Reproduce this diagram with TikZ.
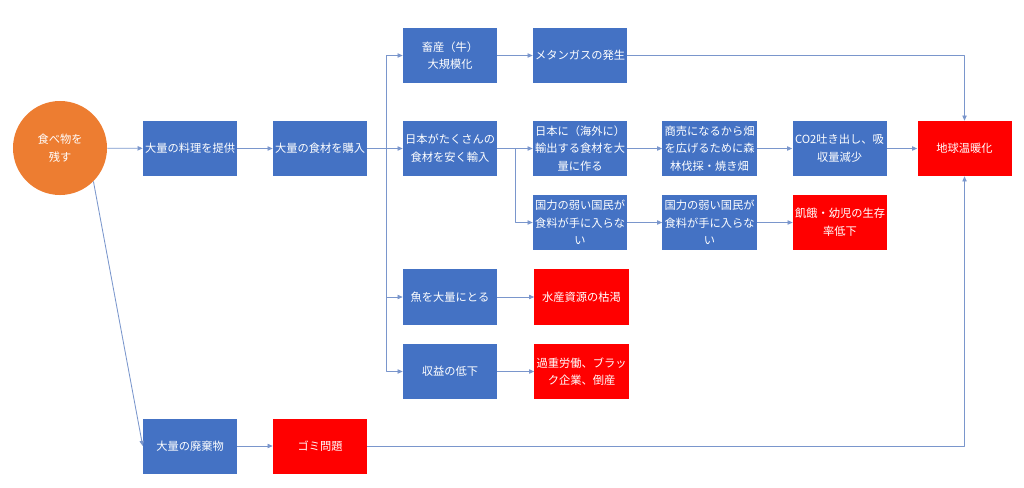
\documentclass[tikz,border=0pt]{standalone}
\usepackage{fontspec}
\setmainfont{Noto Sans CJK JP}
\usetikzlibrary{arrows.meta}
\definecolor{boxblue}{HTML}{4472C4}
\definecolor{boxred}{HTML}{FF0000}
\definecolor{foodorange}{HTML}{ED7D31}
\definecolor{linkblue}{HTML}{7A96CC}
\tikzset{
	box/.style={fill=boxblue,text=white,minimum width=2.35cm,minimum height=1.375cm,
		align=center,inner sep=1pt,font=\fontsize{8}{12.6}\selectfont},
	redbox/.style={box,fill=boxred},
	arr/.style={draw=linkblue,line width=0.6pt,-{Triangle[length=1.3mm,width=1.1mm]}},
	link/.style={draw=linkblue,line width=0.6pt}
}
\begin{document}
\begin{tikzpicture}[x=0.025cm,y=-0.025cm,line join=round]
		\useasboundingbox (0,0) rectangle (1024,487);
		% start
		\node[circle,fill=foodorange,text=white,minimum size=2.35cm,inner sep=0pt,align=center,
			font=\fontsize{8}{12.6}\selectfont] (food) at (60,148) {食べ物を\\残す};
		\node[box] (serve) at (190,148.5) {大量の料理を提供};
		\node[box] (buy) at (320,148.5) {大量の食材を購入};
		\node[box] (waste) at (190,446) {大量の廃棄物};
		\node[redbox] (garbage) at (320,446) {ゴミ問題};
		% third column
		\node[box] (cattle) at (450,55.5) {畜産（牛）\\大規模化};
		\node[box] (import) at (450,148.5) {日本がたくさんの\\食材を安く輸入};
		\node[box] (fish) at (450,297) {魚を大量にとる};
		\node[box] (profit) at (450,371.5) {収益の低下};
		% fourth column
		\node[box] (methane) at (580,55.5) {メタンガスの発生};
		\node[box] (export) at (580,148.5) {日本に（海外に）\\輸出する食材を大\\量に作る};
		\node[box] (weaka) at (580,222.5) {国力の弱い国民が\\食料が手に入らな\\い};
		\node[redbox] (resource) at (581.5,297) {水産資源の枯渇};
		\node[redbox] (overwork) at (581.5,371.5) {過重労働、ブラッ\\ク企業、倒産};
		% right part
		\node[box] (commerce) at (709.5,148.5) {商売になるから畑\\を広げるために森\\林伐採・焼き畑};
		\node[box] (weakb) at (709.5,222.5) {国力の弱い国民が\\食料が手に入らな\\い};
		\node[box] (co2) at (839.5,148.5) {CO2吐き出し、吸\\収量減少};
		\node[redbox] (hunger) at (840,222.5) {飢餓・幼児の生存\\率低下};
		\node[redbox] (warming) at (964.5,148.5) {地球温暖化};
		% branch points
		\coordinate (bja) at (386,148.5);
		\coordinate (bjb) at (515,148.5);
		% connectors
		\draw[arr] (food) -- (serve);
		\draw[arr] (food.-45) -- (waste.west);
		\draw[arr] (serve) -- (buy);
		\draw[arr] (buy) -- (import);
		\draw[arr] (bja) |- (cattle);
		\draw[arr] (bja) |- (fish);
		\draw[arr] (bja) |- (profit);
		\draw[arr] (cattle) -- (methane);
		\draw[arr] (import) -- (export);
		\draw[arr] (bjb) |- (weaka);
		\draw[arr] (export) -- (commerce);
		\draw[arr] (commerce) -- (co2);
		\draw[arr] (co2) -- (warming);
		\draw[arr] (weaka) -- (weakb);
		\draw[arr] (weakb) -- (hunger);
		\draw[arr] (fish) -- (resource);
		\draw[arr] (profit) -- (overwork);
		\draw[arr] (methane) -| (warming);
		\draw[arr] (waste) -- (garbage);
		\draw[arr] (garbage) -| (warming);
\end{tikzpicture}
\end{document}
